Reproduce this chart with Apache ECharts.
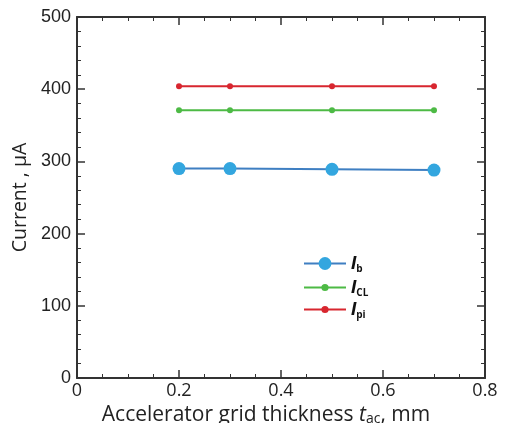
<!DOCTYPE html>
<html>
<head>
<meta charset="utf-8">
<script src="https://cdn.jsdelivr.net/npm/echarts@6/dist/echarts.min.js"></script>
<style>
  html, body { margin: 0; padding: 0; background: #fff; }
  #chart { width: 505px; height: 423px; }
</style>
</head>
<body>
<div id="chart"></div>
<script>
// thickness of accelerator grid, mm
var thickness = [0.2, 0.3, 0.5, 0.7];
var currentB = [290, 290, 289, 288];
var currentCL = [371, 371, 371, 371];
var currentPi = [404, 404, 404, 404];
var seriesNames = ['Ib', 'ICL', 'Ipi'];
var legendSubs = { Ib: 'b', ICL: 'CL', Ipi: 'pi' };

function pairs(ys) {
  return thickness.map(function (x, i) { return [x, ys[i]]; });
}

var axisCol = '#333';
var frameX = {
  type: 'value', min: 0, max: 0.8, interval: 0.2,
  axisLine: { show: true, onZero: false, lineStyle: { color: axisCol, width: 2 } },
  axisTick: { show: true, inside: true, length: 8, lineStyle: { color: axisCol, width: 1.5 } },
  minorTick: { show: true, splitNumber: 4, length: 4, lineStyle: { color: axisCol } },
  splitLine: { show: false }
};
var frameY = {
  type: 'value', min: 0, max: 500, interval: 100,
  axisLine: { show: true, onZero: false, lineStyle: { color: axisCol, width: 2 } },
  axisTick: { show: true, inside: true, length: 8, lineStyle: { color: axisCol, width: 1.5 } },
  minorTick: { show: true, splitNumber: 5, length: 4, lineStyle: { color: axisCol } },
  splitLine: { show: false }
};

// one legend per entry so the Ib marker can be drawn larger
var legendRich = {
  i: { fontFamily: 'Liberation Sans', fontStyle: 'italic', fontWeight: 'bold', fontSize: 19, color: '#111' },
  s: { fontFamily: 'Open Sans', fontWeight: 'bold', fontSize: 10, color: '#111', padding: [12, 0, 0, 0] }
};
function legendFor(name, top, h) {
  return {
    orient: 'vertical', left: 298, top: top,
    itemWidth: 42, itemHeight: h,
    data: [name],
    formatter: function (n) { return '{i|I}{s|' + legendSubs[n] + '}'; },
    textStyle: { rich: legendRich }
  };
}

var chart = echarts.init(document.getElementById('chart'));
chart.setOption({
  animation: false,
  grid: { left: 77, right: 20, top: 17, bottom: 45, outerBoundsMode: 'none' },
  legend: [
    legendFor(seriesNames[0], 249, 16),
    legendFor(seriesNames[1], 273, 9),
    legendFor(seriesNames[2], 295, 9)
  ],
  xAxis: [
    Object.assign({}, frameX, {
      position: 'bottom',
      name: '{n|Accelerator grid thickness }{t|t}{s|ac}{n|, mm}',
      nameLocation: 'middle', nameGap: 15,
      nameTextStyle: {
        padding: [0, 30, 0, 0],
        rich: {
          n: { fontFamily: 'Open Sans', fontSize: 21, color: '#222' },
          t: { fontFamily: 'Open Sans', fontStyle: 'italic', fontSize: 21, color: '#222' },
          s: { fontFamily: 'Open Sans', fontSize: 14, color: '#222', padding: [7, 0, 0, 0] }
        }
      },
      axisLabel: { fontFamily: 'Open Sans', fontSize: 18, color: '#222', margin: 4 }
    }),
    Object.assign({}, frameX, { position: 'top', axisLabel: { show: false } })
  ],
  yAxis: [
    Object.assign({}, frameY, {
      position: 'left',
      name: 'Current , μA',
      nameLocation: 'middle', nameGap: 43,
      nameTextStyle: { fontFamily: 'Open Sans', fontSize: 19.5, color: '#222' },
      axisLabel: { fontFamily: 'Liberation Sans', fontSize: 18, color: '#222', margin: 6 }
    }),
    Object.assign({}, frameY, { position: 'right', axisLabel: { show: false } })
  ],
  series: [
    {
      name: 'Ib', type: 'line', data: pairs(currentB),
      symbol: 'circle', symbolSize: 13,
      lineStyle: { color: '#3f7fc2', width: 2 },
      itemStyle: { color: '#33a6df' }
    },
    {
      name: 'ICL', type: 'line', data: pairs(currentCL),
      symbol: 'circle', symbolSize: 6,
      lineStyle: { color: '#4dba45', width: 2 },
      itemStyle: { color: '#4dba45' }
    },
    {
      name: 'Ipi', type: 'line', data: pairs(currentPi),
      symbol: 'circle', symbolSize: 6,
      lineStyle: { color: '#d8262f', width: 2 },
      itemStyle: { color: '#d8262f' }
    }
  ]
});
</script>
</body>
</html>
